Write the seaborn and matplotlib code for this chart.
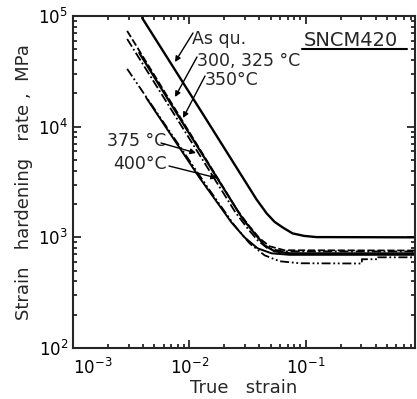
import matplotlib
matplotlib.use("Agg")
import numpy as np
import pandas as pd
import matplotlib.pyplot as plt
import seaborn as sns

# curves (true strain, hardening rate in MPa)
asqu_x = [0.00393, 0.0140, 0.0378, 0.0461, 0.0540, 0.0633, 0.0772, 0.097, 0.124, 0.87]
asqu_y = [96000, 11600, 2200, 1650, 1380, 1230, 1085, 1030, 1005, 1000]

t300_x = [0.00292, 0.00871, 0.0259, 0.0329, 0.0401, 0.0489, 0.0659, 0.87]
t300_y = [73300, 11300, 1750, 1255, 980, 830, 764, 760]

t325_x = [0.00292, 0.0082, 0.0249, 0.0316, 0.0386, 0.0470, 0.0633, 0.87]
t325_y = [62000, 10900, 1680, 1205, 940, 796, 748, 745]

t350_x = [0.00371, 0.0100, 0.0286, 0.0363, 0.0443, 0.0540, 0.0728, 0.87]
t350_y = [46400, 8650, 1480, 1085, 847, 748, 717, 715]

t375_x = [0.00292, 0.0140, 0.0244, 0.0329, 0.0443, 0.0597, 0.0888, 0.304, 0.304, 0.4175, 0.4175, 0.87]
t375_y = [33300, 2940, 1283, 883, 688, 608, 583, 580, 634, 634, 660, 660]

t400_x = [0.00426, 0.0122, 0.0230, 0.0298, 0.0386, 0.0509, 0.0728, 0.87]
t400_y = [18250, 3470, 1365, 1000, 796, 717, 695, 695]

xticks = [1e-3, 1e-2, 1e-1]
xticklabels = [r'$10^{-3}$', r'$10^{-2}$', r'$10^{-1}$']

sns.set_style("ticks")
plt.rcParams['font.family'] = ['DejaVu Sans']
plt.rcParams['mathtext.default'] = 'regular'

fig = plt.figure(figsize=(4.17, 3.99), dpi=100)
ax = fig.add_axes([73/417, 51/399, 342/417, 332/399])
ax.set_xscale('log')
ax.set_yscale('log')

curves = [
    (asqu_x, asqu_y, '-', 1.7),
    (t300_x, t300_y, (0, (4, 1.5)), 1.3),
    (t325_x, t325_y, (0, (5, 1.5, 1, 1.5)), 1.3),
    (t350_x, t350_y, '-', 1.6),
    (t375_x, t375_y, (0, (5, 1.5, 1, 1.5, 1, 1.5)), 1.3),
    (t400_x, t400_y, '-', 1.4),
]
for xs, ys, ls, lw in curves:
    df = pd.DataFrame({'strain': xs, 'rate': ys})
    sns.lineplot(data=df, x='strain', y='rate', ax=ax, color='black',
                 linestyle=ls, lw=lw, estimator=None, sort=False)

ax.set_xlim(1e-3, 0.87)
ax.set_ylim(100, 1e5)
ax.set_xticks(xticks)
ax.set_xticklabels(xticklabels)
ax.get_xticklabels()[0].set_horizontalalignment('left')

for s in ax.spines.values():
    s.set_linewidth(1.5)
    s.set_visible(True)
ax.tick_params(which='both', direction='in', top=True, right=True, width=1.1,
               labelsize=12, colors='black')
ax.tick_params(which='major', length=6)
ax.tick_params(which='minor', length=3)
ax.tick_params(axis='x', which='major', pad=7)

ax.set_xlabel("True   strain", fontsize=13, labelpad=1)
ax.set_ylabel("Strain   hardening   rate ,  MPa", fontsize=13, labelpad=4)

# labels and arrows (axes fraction positions)
def fx(px):
    return (px - 73) / 342

def fy(py):
    return (348 - py) / 332

arw = dict(arrowstyle='-|>', color='black', lw=1.0, shrinkA=0, shrinkB=0,
           mutation_scale=8)
ax.text(fx(192), fy(39), "As qu.", transform=ax.transAxes, fontsize=12.5,
        ha='left', va='center')
ax.annotate('', xy=(fx(175), fy(62)), xytext=(fx(193), fy(33)),
            xycoords='axes fraction', arrowprops=arw)
ax.text(fx(197), fy(61), "300, 325 °C", transform=ax.transAxes, fontsize=12.5,
        ha='left', va='center')
ax.annotate('', xy=(fx(175), fy(97)), xytext=(fx(197), fy(57)),
            xycoords='axes fraction', arrowprops=arw)
ax.text(fx(205), fy(80), "350°C", transform=ax.transAxes, fontsize=12.5,
        ha='left', va='center')
ax.annotate('', xy=(fx(183), fy(118)), xytext=(fx(205), fy(76)),
            xycoords='axes fraction', arrowprops=arw)
ax.text(fx(107), fy(141), "375 °C", transform=ax.transAxes, fontsize=12.5,
        ha='left', va='center')
ax.annotate('', xy=(fx(196), fy(153)), xytext=(fx(161), fy(143)),
            xycoords='axes fraction', arrowprops=arw)
ax.text(fx(113), fy(164), "400°C", transform=ax.transAxes, fontsize=12.5,
        ha='left', va='center')
ax.annotate('', xy=(fx(217), fy(178)), xytext=(fx(169), fy(166)),
            xycoords='axes fraction', arrowprops=arw)

ax.text(fx(304), fy(40), "SNCM420", transform=ax.transAxes, fontsize=14,
        ha='left', va='center')
ax.plot([fx(302), fx(407)], [fy(48.5), fy(48.5)], transform=ax.transAxes,
        color='black', lw=1.5)

fig.savefig("out.png", dpi=100)
